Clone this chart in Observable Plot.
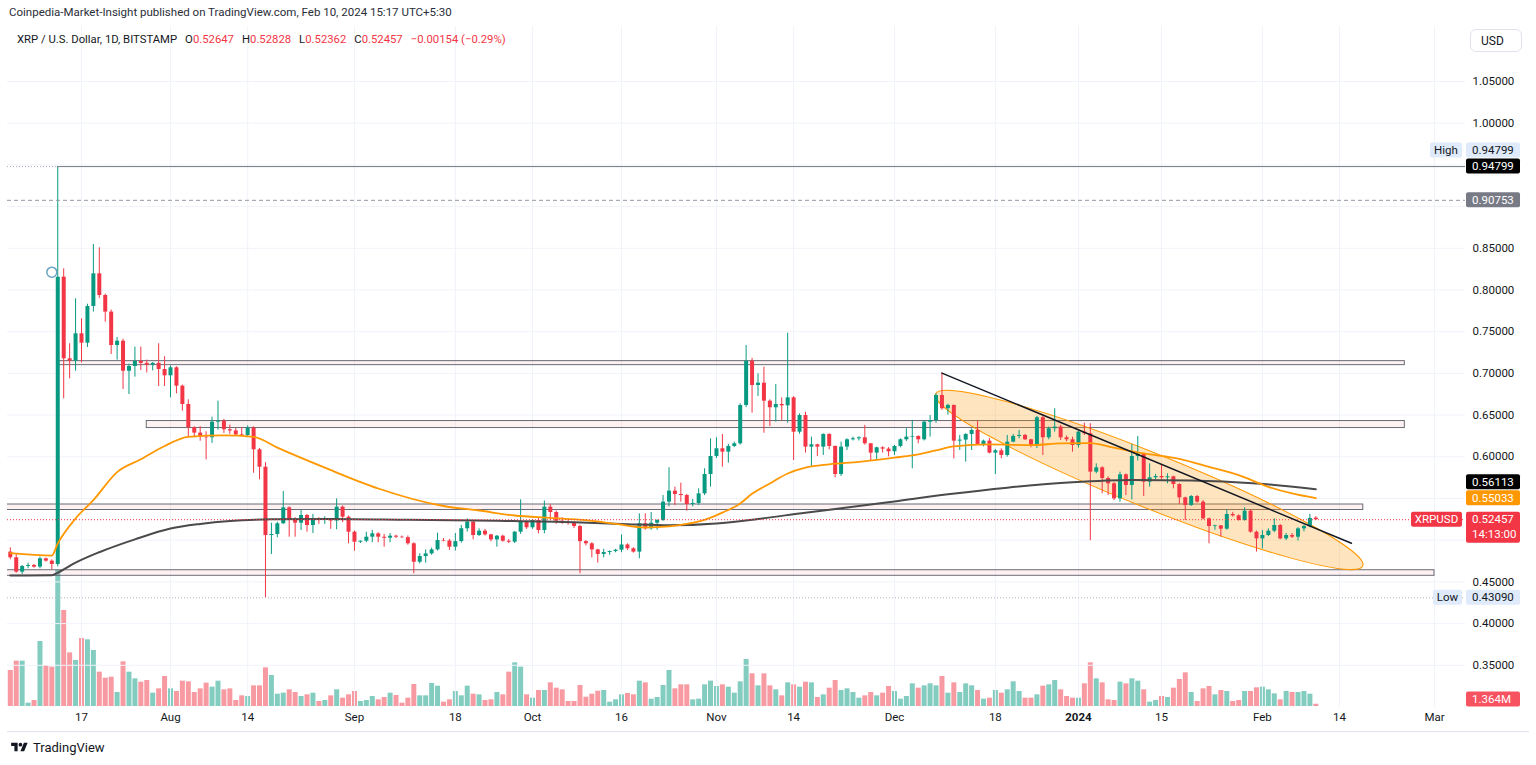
<!DOCTYPE html>
<html>
<head>
<meta charset="utf-8">
<script src="https://cdn.jsdelivr.net/npm/d3@7"></script>
<script src="https://cdn.jsdelivr.net/npm/@observablehq/plot@0.6"></script>
<style>
html,body{margin:0;padding:0;background:#fff;}
#wrap{position:relative;width:1536px;height:765px;overflow:hidden;font-family:Roboto,"Noto Sans",sans-serif;color:#131722;}
.abs{position:absolute;}
#pub{left:9px;top:5px;font-size:11.5px;color:#2a2e39;white-space:nowrap;}
#frame{left:7px;top:25px;width:1520px;height:705px;border:1px solid #e0e3eb;}
#vol,#price{left:0;top:25px;width:1536px;height:706px;}
#legend{left:17px;top:33px;font-size:11.3px;white-space:nowrap;color:#131722;}
#legend .v{color:#f23645;}
#legend .k{margin-left:8px;}
#usd{left:1470px;top:29px;width:52px;height:23px;border:1px solid #e0e3eb;border-radius:6px;font-size:12px;line-height:23px;padding-left:10px;box-sizing:border-box;}
#brand{left:10px;top:740px;font-size:13px;display:flex;align-items:center;gap:4px;color:#131722;}
</style>
</head>
<body>
<div id="wrap">
  <div class="abs" id="pub">Coinpedia-Market-Insight published on TradingView.com, Feb 10, 2024 15:17 UTC+5:30</div>
  <div class="abs" id="frame"></div>
  <div class="abs" id="vol"></div>
  <div class="abs" id="price"></div>
  <div class="abs" id="legend"></div>
  <div class="abs" id="usd">USD</div>
  <div class="abs" id="brand"><svg width="19" height="13" viewBox="0 0 36 28"><path fill="#131722" d="M14 22H7V11H0V4h14v18zM28 22h-8l7.5-18h8L28 22z"/><circle fill="#131722" cx="20" cy="8" r="4"/></svg><span>TradingView</span></div>
</div>
<script>
// ---------------- DATA ----------------
const firstDay = "2023-07-05", lastDay = "2024-02-10";
const open = [
0.4857,0.4789,0.4617,0.4685,0.4697,0.4677,0.4777,0.4749,0.4709,0.8154,
0.7175,0.7147,0.7475,0.7362,0.7802,0.8194,0.7934,0.7735,0.7334,0.7386,
0.7026,0.7083,0.7143,0.7120,0.7100,0.7120,0.7047,0.6971,0.7067,0.6847,
0.6627,0.6348,0.6284,0.6236,0.6228,0.6415,0.6427,0.6324,0.6310,0.6263,
0.6255,0.6343,0.6084,0.5875,0.5056,0.5068,0.5197,0.5388,0.5245,0.5204,
0.5296,0.5176,0.5257,0.5237,0.5257,0.5230,0.5396,0.5276,0.5096,0.4976,
0.4988,0.5036,0.5076,0.5036,0.5024,0.5048,0.5036,0.5030,0.4957,0.4736,
0.4804,0.4836,0.4884,0.4996,0.4990,0.4916,0.4983,0.5137,0.5216,0.5056,
0.5108,0.5064,0.5004,0.5048,0.4988,0.4976,0.5096,0.5216,0.5149,0.5236,
0.5116,0.5396,0.5332,0.5228,0.5216,0.5200,0.5164,0.4983,0.4957,0.4884,
0.4829,0.4852,0.4864,0.4880,0.4943,0.4897,0.4857,0.5197,0.5137,0.5204,
0.5236,0.5456,0.5588,0.5548,0.5536,0.5428,0.5440,0.5556,0.5788,0.6004,
0.6096,0.6056,0.6124,0.6156,0.6615,0.7146,0.6855,0.6883,0.6667,0.6588,
0.6627,0.6611,0.6707,0.6295,0.6495,0.6116,0.6144,0.6116,0.6268,0.6124,
0.5788,0.6116,0.6204,0.6216,0.6228,0.6156,0.6044,0.6108,0.6092,0.6060,
0.6124,0.6204,0.6236,0.6244,0.6204,0.6415,0.6435,0.6735,0.6576,0.6616,
0.6188,0.6200,0.6268,0.6316,0.6148,0.6188,0.6044,0.6072,0.6016,0.6176,
0.6244,0.6256,0.6204,0.6124,0.6468,0.6228,0.6336,0.6356,0.6228,0.6204,
0.6136,0.6296,0.6276,0.5816,0.5868,0.5740,0.5676,0.5496,0.5784,0.5656,
0.6004,0.6030,0.5696,0.5748,0.5764,0.5748,0.5760,0.5668,0.5508,0.5416,
0.5524,0.5456,0.5256,0.5164,0.5172,0.5132,0.5308,0.5292,0.5236,0.5348,
0.5096,0.5016,0.5056,0.5108,0.5176,0.5016,0.5056,0.5036,0.5136,0.5164,
0.52647];
const high = [
0.4909,0.4829,0.4697,0.4725,0.4709,0.4797,0.4785,0.4765,0.94799,0.8254,
0.7355,0.7895,0.7655,0.7830,0.8546,0.8506,0.7950,0.7760,0.7430,0.7410,
0.7110,0.7315,0.7315,0.7160,0.7130,0.7355,0.7200,0.7090,0.7080,0.6860,
0.6683,0.6360,0.6360,0.6300,0.6475,0.6667,0.6450,0.6380,0.6340,0.6350,
0.6370,0.6360,0.6100,0.5930,0.5204,0.5215,0.5584,0.5400,0.5270,0.5356,
0.5310,0.5310,0.5270,0.5280,0.5260,0.5496,0.5410,0.5290,0.5110,0.4990,
0.5096,0.5116,0.5090,0.5070,0.5080,0.5060,0.5050,0.5050,0.4970,0.4836,
0.4884,0.4905,0.5084,0.5020,0.5010,0.5080,0.5177,0.5256,0.5230,0.5137,
0.5130,0.5070,0.5056,0.5060,0.5010,0.5104,0.5484,0.5230,0.5245,0.5270,
0.5470,0.5425,0.5350,0.5270,0.5240,0.5220,0.5180,0.4996,0.4970,0.4890,
0.4890,0.4870,0.4890,0.5064,0.4956,0.4910,0.5316,0.5316,0.5332,0.5245,
0.5536,0.5868,0.5636,0.5684,0.5550,0.5488,0.5616,0.5856,0.6216,0.6228,
0.6268,0.6150,0.6176,0.6635,0.7334,0.7180,0.6995,0.7075,0.6683,0.6867,
0.6707,0.7482,0.6720,0.6515,0.6535,0.6236,0.6150,0.6275,0.6275,0.6130,
0.6176,0.6216,0.6236,0.6240,0.6376,0.6160,0.6116,0.6120,0.6110,0.6136,
0.6216,0.6336,0.6435,0.6250,0.6435,0.6495,0.6755,0.7003,0.6630,0.6620,
0.6256,0.6276,0.6336,0.6427,0.6200,0.6220,0.6088,0.6096,0.6256,0.6268,
0.6316,0.6268,0.6210,0.6484,0.6484,0.6356,0.6576,0.6376,0.6250,0.6236,
0.6308,0.6403,0.6396,0.5916,0.5880,0.5760,0.5690,0.5816,0.5796,0.6148,
0.6244,0.6040,0.5916,0.5790,0.5896,0.5796,0.5768,0.5676,0.5516,0.5536,
0.5536,0.5476,0.5264,0.5180,0.5176,0.5364,0.5334,0.5304,0.5388,0.5364,
0.5110,0.5116,0.5136,0.5256,0.5188,0.5080,0.5080,0.5150,0.5180,0.5310,
0.52828];
const low = [
0.4765,0.4605,0.4589,0.4657,0.4665,0.4657,0.4737,0.4645,0.4680,0.6695,
0.6935,0.7026,0.7127,0.7310,0.7735,0.7900,0.7614,0.7227,0.7160,0.6807,
0.6747,0.6955,0.7035,0.7005,0.7030,0.6843,0.6843,0.6707,0.6755,0.6547,
0.6236,0.6230,0.6187,0.5964,0.6160,0.6320,0.6280,0.6270,0.6250,0.6240,
0.6240,0.5803,0.5724,0.4309,0.4829,0.5030,0.5190,0.5036,0.5036,0.5116,
0.5096,0.5080,0.5190,0.5190,0.5130,0.5125,0.5210,0.4957,0.4868,0.4960,
0.4970,0.4970,0.4970,0.4916,0.4970,0.5020,0.5020,0.4940,0.4597,0.4716,
0.4725,0.4820,0.4870,0.4980,0.4877,0.4870,0.4965,0.5097,0.5004,0.5044,
0.5050,0.4980,0.4916,0.4975,0.4960,0.4960,0.5070,0.5130,0.5130,0.5076,
0.5076,0.5236,0.5190,0.5190,0.5180,0.5140,0.4597,0.4930,0.4788,0.4725,
0.4788,0.4820,0.4850,0.4850,0.4877,0.4845,0.4777,0.5120,0.5120,0.5120,
0.5225,0.5400,0.5416,0.5456,0.5348,0.5400,0.5416,0.5536,0.5636,0.5980,
0.5876,0.5924,0.6110,0.6140,0.6590,0.6523,0.6723,0.6283,0.6364,0.6416,
0.6436,0.6404,0.5955,0.6270,0.6044,0.5876,0.6004,0.6016,0.6084,0.5748,
0.5764,0.6076,0.6190,0.6190,0.6140,0.5955,0.5963,0.6044,0.6000,0.6016,
0.6108,0.6184,0.5856,0.6156,0.6190,0.6236,0.6403,0.6556,0.6500,0.5976,
0.6076,0.5936,0.6076,0.6136,0.6120,0.6036,0.5788,0.5976,0.5996,0.6168,
0.6216,0.6196,0.6108,0.6100,0.6016,0.6204,0.6296,0.6196,0.6180,0.6056,
0.6104,0.6256,0.4994,0.5796,0.5556,0.5536,0.5476,0.5456,0.5536,0.5484,
0.5950,0.5524,0.5636,0.5720,0.5720,0.5676,0.5616,0.5428,0.5236,0.5404,
0.5444,0.5244,0.4957,0.5120,0.5036,0.5120,0.5276,0.5228,0.5228,0.5084,
0.4857,0.4896,0.5044,0.5090,0.5004,0.4996,0.5020,0.4990,0.5100,0.5150,
0.52362];
const close = [
0.4789,0.4617,0.4685,0.4697,0.4677,0.4777,0.4749,0.4709,0.8154,0.7175,
0.7147,0.7475,0.7362,0.7802,0.8194,0.7934,0.7735,0.7334,0.7386,0.7026,
0.7083,0.7143,0.7120,0.7100,0.7120,0.7047,0.6971,0.7067,0.6847,0.6627,
0.6348,0.6284,0.6236,0.6228,0.6415,0.6427,0.6324,0.6310,0.6263,0.6255,
0.6343,0.6084,0.5875,0.5056,0.5068,0.5197,0.5388,0.5245,0.5204,0.5296,
0.5176,0.5257,0.5237,0.5257,0.5230,0.5396,0.5276,0.5096,0.4976,0.4988,
0.5036,0.5076,0.5036,0.5024,0.5048,0.5036,0.5030,0.4957,0.4736,0.4804,
0.4836,0.4884,0.4996,0.4990,0.4916,0.4983,0.5137,0.5216,0.5056,0.5108,
0.5064,0.5004,0.5048,0.4988,0.4976,0.5096,0.5216,0.5149,0.5236,0.5116,
0.5396,0.5332,0.5228,0.5216,0.5200,0.5164,0.4983,0.4957,0.4884,0.4829,
0.4852,0.4864,0.4880,0.4943,0.4897,0.4857,0.5197,0.5137,0.5204,0.5236,
0.5456,0.5588,0.5548,0.5536,0.5428,0.5440,0.5556,0.5788,0.6004,0.6096,
0.6056,0.6124,0.6156,0.6615,0.7146,0.6855,0.6883,0.6667,0.6588,0.6627,
0.6611,0.6707,0.6295,0.6495,0.6116,0.6144,0.6116,0.6268,0.6124,0.5788,
0.6116,0.6204,0.6216,0.6228,0.6156,0.6044,0.6108,0.6092,0.6060,0.6124,
0.6204,0.6236,0.6244,0.6204,0.6415,0.6435,0.6735,0.6576,0.6616,0.6188,
0.6200,0.6268,0.6316,0.6148,0.6188,0.6044,0.6072,0.6016,0.6176,0.6244,
0.6256,0.6204,0.6124,0.6468,0.6228,0.6336,0.6356,0.6228,0.6204,0.6136,
0.6296,0.6276,0.5816,0.5868,0.5740,0.5676,0.5496,0.5784,0.5656,0.6004,
0.6030,0.5696,0.5748,0.5764,0.5748,0.5760,0.5668,0.5508,0.5416,0.5524,
0.5456,0.5256,0.5164,0.5172,0.5132,0.5308,0.5292,0.5236,0.5348,0.5096,
0.5016,0.5056,0.5108,0.5176,0.5016,0.5056,0.5036,0.5136,0.5164,0.52611,
0.52457];
// volume, millions XRP
const volume = [
21.6,27.2,27.2,2.0,3.6,39.0,24.6,23.6,81.6,57.6,
32.2,27.6,40.8,40.0,33.6,20.6,17.0,17.6,8.4,26.8,
20.6,16.6,14.6,15.6,8.0,10.6,18.0,10.6,9.0,15.2,
14.8,8.4,10.6,14.0,11.6,15.2,10.0,10.6,3.6,6.4,
6.0,12.4,12.4,23.2,18.6,7.4,8.0,10.0,8.4,6.0,
7.0,8.0,3.0,3.6,6.4,10.0,5.0,7.0,9.0,3.0,
3.6,6.0,4.0,5.4,8.0,6.6,2.0,5.0,13.2,6.4,
6.4,13.8,12.2,2.6,4.0,9.0,6.4,12.2,7.4,7.0,
3.6,4.0,8.4,7.0,20.6,26.2,23.6,7.0,5.0,9.6,
9.6,14.2,11.0,10.0,3.0,3.0,12.6,5.6,7.4,9.2,
9.6,2.6,4.0,7.0,7.8,7.0,15.2,14.2,4.4,5.4,12.6,
21.6,10.6,13.0,13.0,4.0,4.4,13.0,15.2,12.0,13.0,
11.6,8.0,14.8,28.2,19.6,12.4,19.6,12.4,10.0,6.4,
14.2,13.0,11.6,14.6,14.2,5.4,7.0,11.0,15.6,9.6,
10.6,8.4,5.0,6.4,8.4,6.4,8.0,12.0,9.0,4.4,
6.0,13.6,11.0,12.4,13.6,12.4,18.0,8.0,14.2,8.4,
13.6,12.4,9.6,4.4,5.0,9.6,8.0,10.0,14.8,9.0,
5.0,5.0,7.0,12.2,13.0,15.6,10.0,6.0,5.0,5.0,
13.6,26.2,16.6,14.2,4.0,3.6,14.6,13.6,16.6,15.2,
10.0,2.6,3.6,6.0,5.4,11.0,16.2,20.2,8.4,3.0,
10.6,12.0,7.0,9.6,9.0,3.0,3.6,9.0,9.0,11.2,
11.6,10.0,7.6,4.0,9.0,8.4,8.4,9.0,7.4,1.364];

// moving averages
const ma50Dates = ["2023-07-05","2023-07-12","2023-07-13","2023-07-16","2023-07-19","2023-07-23","2023-07-27","2023-07-31","2023-08-04","2023-08-10","2023-08-15","2023-08-19","2023-08-27","2023-09-05","2023-09-16","2023-09-22","2023-09-28","2023-10-04","2023-10-10","2023-10-15","2023-10-20","2023-10-24","2023-10-27","2023-10-30","2023-11-02","2023-11-05","2023-11-07","2023-11-10","2023-11-13","2023-11-16","2023-11-20","2023-11-25","2023-12-01","2023-12-04","2023-12-08","2023-12-11","2023-12-17","2023-12-24","2023-12-29","2024-01-03","2024-01-07","2024-01-12","2024-01-18","2024-01-23","2024-01-28","2024-02-02","2024-02-06","2024-02-10"];
const ma50Values = [0.4844,0.4816,0.4960,0.5260,0.5480,0.5816,0.5970,0.6130,0.6240,0.6256,0.6240,0.6110,0.5870,0.5620,0.5410,0.5356,0.5296,0.5268,0.5240,0.5196,0.5152,0.5165,0.5195,0.5245,0.5330,0.5440,0.5556,0.5680,0.5800,0.5870,0.5910,0.5940,0.5990,0.6016,0.6076,0.6124,0.6148,0.6140,0.6160,0.6165,0.6110,0.6040,0.5976,0.5880,0.5780,0.5640,0.5560,0.55033];
const ma200Dates = ["2023-07-05","2023-07-12","2023-07-13","2023-07-16","2023-07-20","2023-07-26","2023-08-01","2023-08-06","2023-08-11","2023-08-18","2023-08-28","2023-09-10","2023-09-25","2023-10-08","2023-10-17","2023-10-24","2023-11-01","2023-11-08","2023-11-16","2023-11-24","2023-12-01","2023-12-10","2023-12-20","2023-12-31","2024-01-10","2024-01-20","2024-01-31","2024-02-10"];
const ma200Values = [0.4577,0.4580,0.4610,0.4730,0.4856,0.5010,0.5140,0.5195,0.5230,0.5250,0.5255,0.5245,0.5232,0.5215,0.5192,0.5178,0.5200,0.5255,0.5330,0.5400,0.5465,0.5550,0.5630,0.5695,0.5722,0.5716,0.5680,0.56113];

// horizontal zones drawn on the chart
const zoneStart = ["2023-07-13","2023-07-28","2023-07-01","2023-07-01"];
const zoneEnd   = ["2024-02-25","2024-02-25","2024-02-18","2024-03-01"];
const zoneLow   = [0.7099,0.6345,0.5362,0.4573];
const zoneHigh  = [0.7147,0.6429,0.5428,0.4640];

// ellipse: two ends of the long axis and one point on its short side
const ellipseDates  = ["2023-12-08","2024-02-18","2024-01-15"];
const ellipsePrices = [0.6747,0.4685,0.6010];
// trend line
const trendDates  = ["2023-12-09","2024-02-16"];
const trendPrices = [0.7003,0.4963];
// levels
const highLevel = 0.94799, lowLevel = 0.43090, prevLevel = 0.90753;
const rayStart = "2023-07-13", rayEnd = "2024-03-10";
const markerDate = "2023-07-12", markerPrice = 0.8214;

// axes
const priceTicks = [0.35,0.40,0.45,0.50,0.55,0.60,0.65,0.70,0.75,0.80,0.85,0.90,0.95,1.00,1.05];
const timeTickDates  = ["2023-07-17","2023-08-01","2023-08-14","2023-09-01","2023-09-18","2023-10-01","2023-10-16","2023-11-01","2023-11-14","2023-12-01","2023-12-18","2024-01-01","2024-01-15","2024-02-01","2024-02-14","2024-03-01"];
const timeTickLabels = ["17","Aug","14","Sep","18","Oct","16","Nov","14","Dec","18","2024","15","Feb","14","Mar"];

// ---------------- BUILD ----------------
const parse = d3.utcParse("%Y-%m-%d");
const fmt5 = d3.format(".5f");
const UP = "#089981", DOWN = "#f23645";
const dates = d3.utcDay.range(parse(firstDay), d3.utcDay.offset(parse(lastDay), 1));
const candles = dates.map((date, i) => ({date, open: open[i], high: high[i], low: low[i], close: close[i], volume: volume[i], up: close[i] >= open[i]}));
const ma50 = ma50Dates.map((d, i) => ({date: parse(d), value: ma50Values[i]}));
const ma200 = ma200Dates.map((d, i) => ({date: parse(d), value: ma200Values[i]}));
const zones = zoneStart.map((d, i) => ({start: parse(d), end: parse(zoneEnd[i]), low: zoneLow[i], high: zoneHigh[i]}));
const ellipsePts = ellipseDates.map((d, i) => ({date: parse(d), price: ellipsePrices[i]}));
const trend = trendDates.map((d, i) => ({date: parse(d), price: trendPrices[i]}));
const timeTicks = timeTickDates.map((d, i) => ({date: parse(d), label: timeTickLabels[i], bold: /^\d{4}$/.test(timeTickLabels[i])}));
const last = candles[candles.length - 1], prev = candles[candles.length - 2];
const lastMa50 = ma50Values[ma50Values.length - 1], lastMa200 = ma200Values[ma200Values.length - 1];

const priceTags = [
  {price: highLevel, text: fmt5(highLevel), tag: "High", bg: "#dfeafb", fg: "#131722"},
  {price: highLevel, text: fmt5(highLevel), bg: "#000000", fg: "#ffffff"},
  {price: prevLevel, text: fmt5(prevLevel), bg: "#787b86", fg: "#ffffff"},
  {price: lastMa200, text: fmt5(lastMa200), bg: "#000000", fg: "#ffffff"},
  {price: lastMa50, text: fmt5(lastMa50), bg: "#ff9800", fg: "#ffffff"},
  {price: last.close, text: fmt5(last.close), sub: "14:13:00", tag: "XRPUSD", bg: "#f23645", fg: "#ffffff"},
  {price: lowLevel, text: fmt5(lowLevel), tag: "Low", bg: "#dfeafb", fg: "#131722"}
];

// legend
const chg = last.close - prev.close;
document.getElementById("legend").innerHTML =
  `<span>XRP / U.S. Dollar, 1D, BITSTAMP</span>` +
  `<span class="k">O<span class="v">${fmt5(last.open)}</span></span>` +
  `<span class="k">H<span class="v">${fmt5(last.high)}</span></span>` +
  `<span class="k">L<span class="v">${fmt5(last.low)}</span></span>` +
  `<span class="k">C<span class="v">${fmt5(last.close)}</span></span>` +
  `<span class="k v">${fmt5(chg)} (${d3.format(".2f")(chg / prev.close * 100)}%)</span>`;

const W = 1536, H = 706;
const FONT = "Roboto, 'Noto Sans', sans-serif";
const yDomain = [0.35, 1.05], yRange = [639.8, 56];
const xOpt = {type: "utc", domain: [parse("2023-07-17"), parse("2024-03-01")], range: [81, 1434], axis: null};
const frameOpt = {width: W, height: H, marginLeft: 7, marginRight: 71, marginTop: 1, marginBottom: 24};
const measure = document.createElement("canvas").getContext("2d");
measure.font = "11.5px Roboto";
const BH = 15;

// place the price tags (pushed apart where they collide), shared by the tag mark and the tick filter
function layoutTags(tags, yScale) {
  const items = tags.map(t => ({...t, y: yScale(t.price), h: t.sub ? 31 : BH}));
  for (let i = items.length - 2; i >= 0; i--) {
    const maxY = items[i + 1].y - BH / 2 - 1 - (items[i].h - BH / 2);
    if (items[i].y > maxY) items[i].y = maxY;
  }
  return items;
}
const yProbe = d3.scaleLinear(yDomain, yRange);
const placedTags = layoutTags(priceTags, yProbe);
const visibleTicks = priceTicks.filter(p => {
  const y = yProbe(p);
  return !placedTags.some(t => y > t.y - BH / 2 - 5 && y < t.y - BH / 2 + t.h + 3);
});

function ellipseMark(pts) {
  return (index, scales) => {
    const [a, b, c] = pts.map(d => [scales.x(d.date), scales.y(d.price)]);
    const cx = (a[0] + b[0]) / 2, cy = (a[1] + b[1]) / 2;
    const ang = Math.atan2(b[1] - a[1], b[0] - a[0]);
    const rx = Math.hypot(b[0] - a[0], b[1] - a[1]) / 2;
    const ry = Math.abs((c[0] - cx) * -Math.sin(ang) + (c[1] - cy) * Math.cos(ang));
    return d3.create("svg:ellipse")
      .attr("cx", cx).attr("cy", cy).attr("rx", rx).attr("ry", ry)
      .attr("transform", `rotate(${ang * 180 / Math.PI} ${cx} ${cy})`)
      .attr("fill", "#ff9800").attr("fill-opacity", 0.25)
      .attr("stroke", "#ff9800").attr("stroke-width", 1).node();
  };
}

function tagsMark(tags) {
  return (index, scales, values, dims) => {
    const g = d3.create("svg:g").attr("font-family", FONT).attr("font-size", 11.5).attr("text-anchor", "start");
    const x0 = dims.width - dims.marginRight;
    const items = layoutTags(tags, scales.y);
    for (const t of items) {
      g.append("rect").attr("x", x0 + 1).attr("y", t.y - BH / 2).attr("width", 54).attr("height", t.h).attr("rx", 2).attr("fill", t.bg);
      g.append("text").attr("x", x0 + 7).attr("y", t.y).attr("dy", "0.36em").attr("text-anchor", "start").attr("fill", t.fg).text(t.text);
      if (t.sub) g.append("text").attr("x", x0 + 7).attr("y", t.y + 15).attr("dy", "0.36em").attr("text-anchor", "start").attr("fill", t.fg).text(t.sub);
      if (t.tag) {
        const w = Math.round(measure.measureText(t.tag).width) + 8;
        g.append("rect").attr("x", x0 - 3 - w).attr("y", t.y - BH / 2).attr("width", w).attr("height", BH).attr("rx", 2).attr("fill", t.bg);
        g.append("text").attr("x", x0 - 3 - w / 2).attr("y", t.y).attr("dy", "0.36em").attr("text-anchor", "middle").attr("fill", t.fg).text(t.tag);
      }
    }
    return g.node();
  };
}

function volTag(lastVol) {
  return (index, scales, values, dims) => {
    const x0 = dims.width - dims.marginRight;
    const bottom = dims.height - dims.marginBottom;
    const y = Math.min(scales.y(lastVol), bottom - 8);
    const g = d3.create("svg:g").attr("font-family", FONT).attr("font-size", 11.5).attr("text-anchor", "start");
    g.append("rect").attr("x", x0 + 1).attr("y", y - 7.5).attr("width", 54).attr("height", 15).attr("rx", 2).attr("fill", "#f7525f");
    g.append("text").attr("x", x0 + 7).attr("y", y).attr("dy", "0.36em").attr("text-anchor", "start").attr("fill", "#fff").text(d3.format(".3f")(lastVol) + "M");
    return g.node();
  };
}

const volChart = Plot.plot({
  ...frameOpt,
  style: {background: "white", fontFamily: FONT, fontSize: "11.5px", overflow: "visible"},
  color: {type: "identity"},
  x: xOpt,
  y: {domain: [0, d3.max(volume)], range: [681, 545], axis: null},
  marks: [
    Plot.ruleX(candles, {x: "date", y1: 0, y2: "volume", stroke: d => d.up ? UP : DOWN, strokeOpacity: 0.5, strokeWidth: 5}),
    volTag(last.volume)
  ]
});
document.getElementById("vol").append(volChart);

const priceChart = Plot.plot({
  ...frameOpt,
  style: {background: "transparent", fontFamily: FONT, fontSize: "11.5px", overflow: "visible"},
  color: {type: "identity"},
  x: xOpt,
  y: {domain: yDomain, range: yRange, axis: null},
  marks: [
    Plot.ruleX(timeTicks, {x: "date", stroke: "#f0f3fa"}),
    Plot.ruleY(priceTicks, {stroke: "#f0f3fa"}),
    Plot.rect(zones, {x1: "start", x2: "end", y1: "low", y2: "high", fill: "#f23645", fillOpacity: 0.07, stroke: "#50535e", strokeOpacity: 0.85, clip: true}),
    ellipseMark(ellipsePts),
    Plot.ruleX(candles, {x: "date", y1: "low", y2: "high", stroke: d => d.up ? UP : DOWN, strokeWidth: 1}),
    Plot.ruleX(candles, {x: "date", y1: "open", y2: "close", stroke: d => d.up ? UP : DOWN, strokeWidth: 4}),
    Plot.line(ma200, {x: "date", y: "value", stroke: "#4a4a4a", strokeWidth: 2, curve: "monotone-x"}),
    Plot.line(ma50, {x: "date", y: "value", stroke: "#ff9800", strokeWidth: 1.8, curve: "monotone-x"}),
    Plot.ruleY([highLevel], {stroke: "#b2b5be", strokeDasharray: "1,2"}),
    Plot.ruleY([{price: highLevel, start: parse(rayStart), end: parse(rayEnd)}], {y: "price", x1: "start", x2: "end", stroke: "#787b86", clip: true}),
    Plot.ruleY([prevLevel], {stroke: "#9598a1", strokeDasharray: "4,3"}),
    Plot.ruleY([lowLevel], {stroke: "#b2b5be", strokeDasharray: "1,2"}),
    Plot.ruleY([last.close], {stroke: "#f23645", strokeDasharray: "1,2"}),
    Plot.line(trend, {x: "date", y: "price", stroke: "#131722", strokeWidth: 1.5}),
    Plot.dot([{date: parse(markerDate), price: markerPrice}], {x: "date", y: "price", r: 5, stroke: "#6aa3c0", fill: "white", strokeWidth: 1.5}),
    Plot.text(visibleTicks, {y: d => d, text: d => fmt5(d), frameAnchor: "right", dx: 7, textAnchor: "start", fill: "#131722"}),
    Plot.text(timeTicks.filter(d => !d.bold), {x: "date", text: "label", frameAnchor: "bottom", dy: 13, fill: "#131722"}),
    Plot.text(timeTicks.filter(d => d.bold), {x: "date", text: "label", frameAnchor: "bottom", dy: 13, fill: "#131722", fontWeight: "bold"}),
    tagsMark(priceTags)
  ]
});
document.getElementById("price").append(priceChart);
</script>
</body>
</html>
